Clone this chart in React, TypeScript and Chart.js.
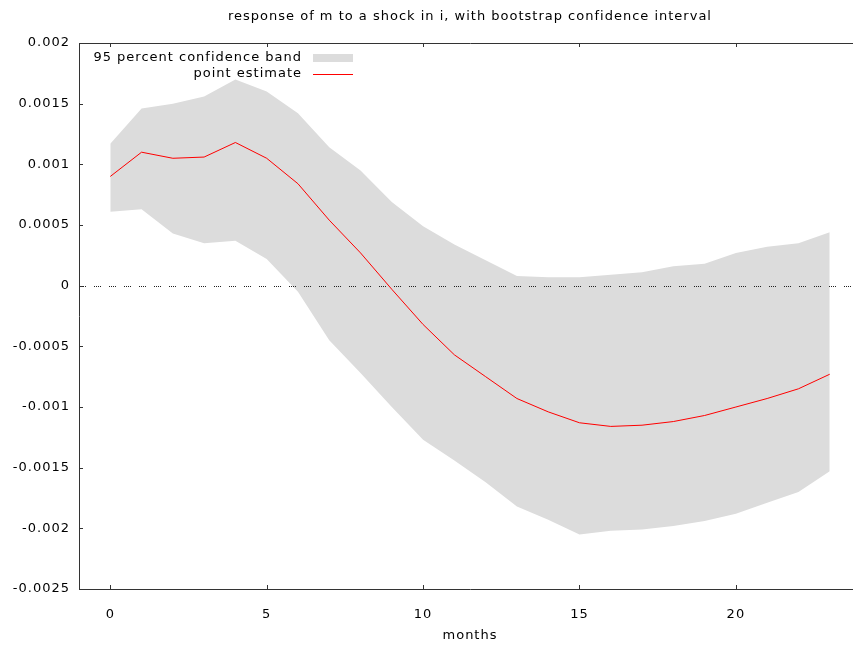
import { useEffect, useRef } from "react"
import { Chart, registerables } from "chart.js"

Chart.register(...registerables)

const months = [0, 1, 2, 3, 4, 5, 6, 7, 8, 9, 10, 11, 12, 13, 14, 15, 16, 17, 18, 19, 20, 21, 22, 23]
const pointEstimate = [
  0.0009, 0.00110, 0.00105, 0.00106, 0.00118, 0.00105, 0.00084, 0.00054, 0.00027, -0.00003,
  -0.00032, -0.00057, -0.00075, -0.00093, -0.00104, -0.00113, -0.00116, -0.00115, -0.00112,
  -0.00107, -0.00100, -0.00093, -0.00085, -0.00073,
]
const bandUpper = [
  0.00117, 0.00146, 0.00150, 0.00156, 0.00170, 0.00160, 0.00142, 0.00114, 0.00095, 0.00069,
  0.00049, 0.00034, 0.00021, 0.00008, 0.00007, 0.00007, 0.00009, 0.00011, 0.00016, 0.00018,
  0.00027, 0.00032, 0.00035, 0.00044,
]
const bandLower = [
  0.00061, 0.00063, 0.00043, 0.00035, 0.00037, 0.00022, -0.00005, -0.00045, -0.00072, -0.00100,
  -0.00127, -0.00144, -0.00162, -0.00182, -0.00193, -0.00205, -0.00202, -0.00201, -0.00198,
  -0.00194, -0.00188, -0.00179, -0.00170, -0.00153,
]
const xTicks = [0, 5, 10, 15, 20]

const FONT = "'DejaVu Sans', sans-serif"
const AXIS = "#333333"
const BAND = "#dcdcdc"

// gnuplot look: wide letter spacing, inward ticks, dotted zero axis, legend inside the plot
const extras = {
  id: "extras",
  beforeDraw(chart: Chart) {
    ;(chart.ctx as any).letterSpacing = "1px"
  },
  beforeDatasetDraw(chart: Chart, args: { index: number }) {
    if (args.index !== 2) return
    const { ctx, chartArea } = chart
    const y = Math.round(chart.scales.y.getPixelForValue(0)) + 0.5
    ctx.save()
    ctx.strokeStyle = "#222222"
    ctx.lineWidth = 1
    ctx.setLineDash([1, 1, 1, 1, 1, 1, 1, 8])
    ctx.beginPath()
    ctx.moveTo(chartArea.left, y)
    ctx.lineTo(chartArea.right, y)
    ctx.stroke()
    ctx.restore()
  },
  afterDatasetsDraw(chart: Chart) {
    const { ctx, chartArea } = chart
    const { x, y } = chart.scales
    ctx.save()
    ctx.strokeStyle = AXIS
    ctx.lineWidth = 1
    ctx.beginPath()
    x.ticks.forEach((t) => {
      const px = Math.round(x.getPixelForValue(t.value)) + 0.5
      ctx.moveTo(px, chartArea.bottom)
      ctx.lineTo(px, chartArea.bottom - 4)
      ctx.moveTo(px, chartArea.top)
      ctx.lineTo(px, chartArea.top + 4)
    })
    y.ticks.forEach((t) => {
      const py = Math.round(y.getPixelForValue(t.value)) + 0.5
      ctx.moveTo(chartArea.left, py)
      ctx.lineTo(chartArea.left + 4, py)
      ctx.moveTo(chartArea.right, py)
      ctx.lineTo(chartArea.right - 4, py)
    })
    ctx.stroke()

    const textX = chartArea.left + 223
    const boxX = chartArea.left + 234
    ctx.font = `13px ${FONT}`
    ctx.fillStyle = "#000"
    ctx.textAlign = "right"
    ctx.textBaseline = "middle"
    ctx.fillText(String(chart.data.datasets[0].label), textX, chartArea.top + 15)
    ctx.fillText(String(chart.data.datasets[2].label), textX, chartArea.top + 31)
    ctx.fillStyle = BAND
    ctx.fillRect(boxX, chartArea.top + 11, 40, 8)
    ctx.strokeStyle = "#ff0000"
    ctx.beginPath()
    ctx.moveTo(boxX, chartArea.top + 31.5)
    ctx.lineTo(boxX + 40, chartArea.top + 31.5)
    ctx.stroke()
    ctx.restore()
  },
}

export default function App() {
  const chartRef = useRef<HTMLCanvasElement>(null)
  const chartInstance = useRef<Chart | null>(null)

  useEffect(() => {
    document.body.style.margin = "0"
    if (chartRef.current) {
      if (chartInstance.current) {
        chartInstance.current.destroy()
      }

      const ctx = chartRef.current.getContext("2d")
      if (ctx) {
        chartInstance.current = new Chart(ctx, {
          type: "line",
          data: {
            datasets: [
              {
                label: "95 percent confidence band",
                data: months.map((m, i) => ({ x: m, y: bandUpper[i] })),
                borderWidth: 0,
                pointRadius: 0,
                backgroundColor: BAND,
                fill: "+1",
                order: 2,
              },
              {
                label: "lower",
                data: months.map((m, i) => ({ x: m, y: bandLower[i] })),
                borderWidth: 0,
                pointRadius: 0,
                fill: false,
                order: 2,
              },
              {
                label: "point estimate",
                data: months.map((m, i) => ({ x: m, y: pointEstimate[i] })),
                borderColor: "#ff0000",
                borderWidth: 1,
                pointRadius: 0,
                fill: false,
                order: 1,
              },
            ],
          },
          options: {
            responsive: false,
            animation: false,
            layout: { padding: { right: 9 } },
            plugins: {
              legend: { display: false },
              tooltip: { enabled: false },
            },
            scales: {
              x: {
                type: "linear",
                position: "bottom",
                min: -1,
                max: 24,
                afterFit: (scale) => {
                  scale.height = 56
                },
                afterBuildTicks: (scale) => {
                  scale.ticks = xTicks.map((v) => ({ value: v }))
                },
                ticks: {
                  padding: 18,
                  color: "#000",
                  font: { family: FONT, size: 13 },
                },
                grid: { display: false, drawTicks: false },
                border: { color: AXIS, width: 1 },
                title: {
                  display: true,
                  text: "months",
                  color: "#000",
                  font: { family: FONT, size: 13 },
                  padding: { top: 0, bottom: 2 },
                },
              },
              x2: {
                type: "linear",
                position: "top",
                min: -1,
                max: 24,
                afterFit: (scale) => {
                  scale.height = 43
                },
                ticks: { display: false },
                grid: { display: false, drawTicks: false },
                border: { color: AXIS, width: 1 },
                title: {
                  display: true,
                  text: "response of m to a shock in i, with bootstrap confidence interval",
                  color: "#000",
                  font: { family: FONT, size: 13 },
                  padding: { top: 9, bottom: 0 },
                },
              },
              y: {
                min: -0.0025,
                max: 0.002,
                afterFit: (scale) => {
                  scale.width = 79
                },
                ticks: {
                  stepSize: 0.0005,
                  padding: 9,
                  color: "#000",
                  font: { family: FONT, size: 13 },
                  callback: (v) => String(parseFloat(Number(v).toFixed(4))),
                },
                grid: { display: false, drawTicks: false },
                border: { color: AXIS, width: 1 },
              },
            },
          },
          plugins: [extras],
        })
      }
    }

    return () => {
      if (chartInstance.current) {
        chartInstance.current.destroy()
      }
    }
  }, [])

  return (
    <div style={{ width: 853, height: 645, overflow: "hidden", background: "#fff" }}>
      <canvas ref={chartRef} width={870} height={645} />
    </div>
  )
}
